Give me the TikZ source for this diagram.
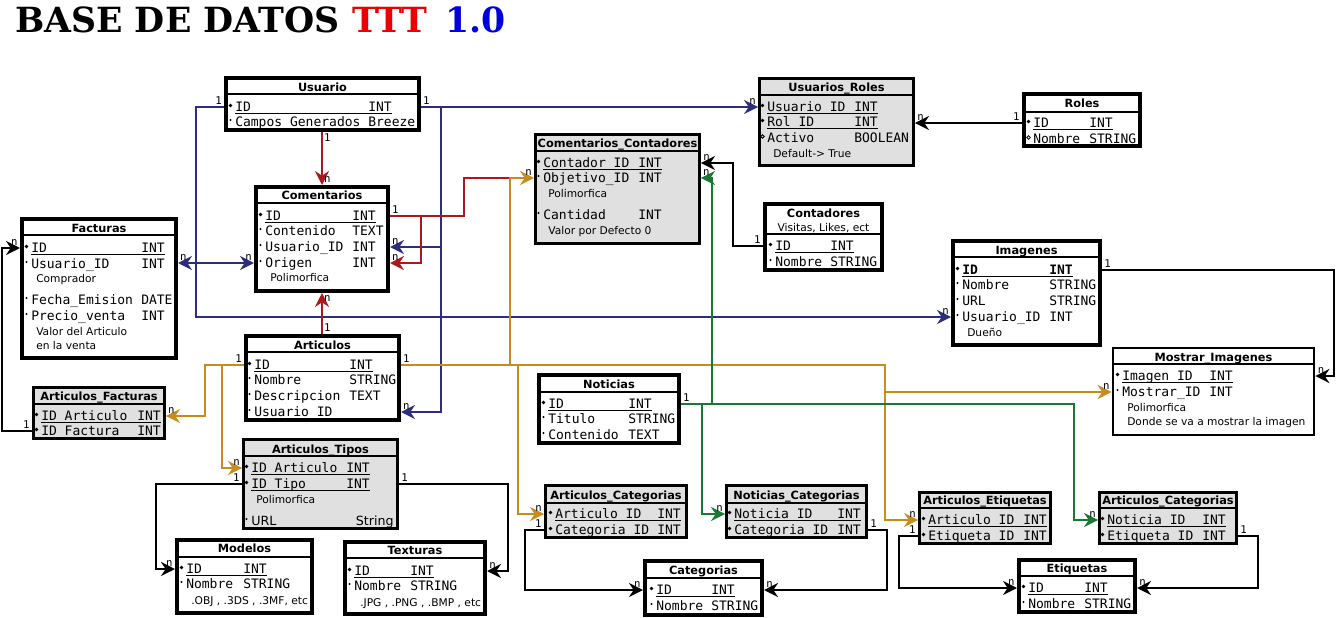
\documentclass[tikz,border=0pt]{standalone}
\usepackage{fontspec}
\newfontfamily\monof{DejaVu Sans Mono}
\newfontfamily\sansf{DejaVu Sans}
\newfontfamily\seriff{DejaVu Serif}
\usetikzlibrary{fit,arrows.meta}
\definecolor{cNavy}{RGB}{45,45,125}
\definecolor{cRed}{RGB}{170,25,30}
\definecolor{cGold}{RGB}{200,140,30}
\definecolor{cGreen}{RGB}{25,120,50}
\definecolor{cGray}{RGB}{224,224,224}
\definecolor{cTitleRed}{RGB}{235,0,0}
\definecolor{cTitleBlue}{RGB}{0,0,220}
\tikzset{
 fld/.style={font=\monof\fontsize{9.75}{11}\selectfont, anchor=west, inner sep=0pt, text height=7pt, text depth=0pt},
 nte/.style={font=\sansf\fontsize{8}{9}\selectfont, anchor=west, inner sep=0pt, text height=6pt, text depth=0pt},
 ttl/.style={font=\sansf\bfseries\fontsize{8.5}{9}\selectfont, inner sep=0pt, text height=6.2pt, text depth=0pt},
 thickbox/.style={draw, line width=3pt, fill=white, inner sep=0pt},
 thickbox sep/.style={line width=2pt},
 graybox/.style={draw, line width=2.2pt, fill=cGray, inner sep=0pt},
 graybox sep/.style={line width=1.8pt},
 thinbox/.style={draw, line width=2pt, fill=white, inner sep=0pt},
 thinbox sep/.style={line width=1.6pt},
 uline/.style={line width=0.8pt},
 lbl/.style={font=\monof\fontsize{8}{9}\selectfont, inner sep=0.8pt},
 arr/.style={-{Stealth[length=10.5pt,width=10.5pt,inset=3.5pt]}},
 navyln/.style={draw=cNavy, line width=1.7pt},
 redln/.style={draw=cRed, line width=1.7pt},
 goldln/.style={draw=cGold, line width=1.7pt},
 greenln/.style={draw=cGreen, line width=1.7pt},
 blkln/.style={draw=black, line width=2.1pt},
}
% table box: name, x1,y1,x2,y2, sep y, title y, title, style
\newcommand\tbox[9]{%
 \node[#9, fit={(#2,#3)(#4,#5)}] (#1) {};
 \draw[#9 sep] (#2,#6) -- (#4,#6);
 \node[ttl] (#1-title) at ({(#2+#4)/2},#7) {#8};}
\newcommand\fieldrow[7]{%
 \node[fld] (#1) at (#2,#3) {#4};
 \node[fld] (#1-t) at (#5,#3) {#6};
 #7}
\newcommand\keyf[6]{\fieldrow{#1}{#2}{#3}{#4}{#5}{#6}{\fill (#2-4.5,#3-1.5) circle[radius=1.9];
 \draw[uline] ([yshift=-1pt]#1.south west) -- ([yshift=-1pt]#1-t.south east);}}
\newcommand\keyd[6]{\fieldrow{#1}{#2}{#3}{#4}{#5}{#6}{\fill (#2-4.5,#3-1.5) circle[radius=1.9];}}
\newcommand\norf[6]{\fieldrow{#1}{#2}{#3}{#4}{#5}{#6}{\fill (#2-4.5,#3-2) circle[radius=1.2];}}
\newcommand\opnf[6]{\fieldrow{#1}{#2}{#3}{#4}{#5}{#6}{\draw[line width=0.6pt] (#2-4.5,#3-1.5) circle[radius=1.8];}}
\newcommand\Tnote[4]{\node[nte] (#1) at (#2,#3) {#4};}
\begin{document}
\begin{tikzpicture}[x=0.75pt,y=-0.75pt]
\useasboundingbox (0,0) rectangle (1337,617);
\fill[white] (0,0) rectangle (1337,617);
% title
\node[anchor=base west, font=\seriff\bfseries\fontsize{26}{28}\selectfont, inner sep=0pt] (t1) at (15,33) {BASE DE DATOS};
\node[anchor=base west, font=\seriff\bfseries\fontsize{26}{28}\selectfont, inner sep=0pt, text=cTitleRed] (t2) at (352,33) {TTT};
\node[anchor=base west, font=\seriff\bfseries\fontsize{26}{28}\selectfont, inner sep=0pt, text=cTitleBlue] (t3) at (445,33) {1.0};

% ---------- tables ----------
\tbox{usuario}{226}{78}{419}{130}{94}{87}{Usuario}{thickbox}
\keyf{u-id}{235}{107}{ID}{368}{INT}
\norf{u-cg}{235}{122}{Campos Generados Breeze}{415}{}

\tbox{coment}{256}{187}{388}{291}{203}{195}{Comentarios}{thickbox}
\keyf{c-id}{265}{216}{ID}{352}{INT}
\norf{c-cont}{265}{231}{Contenido}{352}{TEXT}
\norf{c-uid}{265}{247}{Usuario\_ID}{352}{INT}
\norf{c-orig}{265}{263}{Origen}{352}{INT}
\Tnote{c-n1}{270}{277}{Polimorfica}

\tbox{factur}{22}{219}{176}{358}{235}{228}{Facturas}{thickbox}
\keyf{f-id}{31}{248}{ID}{141}{INT}
\norf{f-uid}{31}{264}{Usuario\_ID}{141}{INT}
\Tnote{f-n1}{36}{278}{Comprador}
\norf{f-fe}{31}{300}{Fecha\_Emision}{141}{DATE}
\norf{f-pv}{31}{316}{Precio\_venta}{141}{INT}
\Tnote{f-n2}{36}{331}{Valor del Articulo}
\Tnote{f-n3}{36}{345}{en la venta}

\tbox{artic}{246}{336}{399}{420}{352}{345}{Articulos}{thickbox}
\keyf{a-id}{254}{365}{ID}{349}{INT}
\norf{a-nom}{254}{380}{Nombre}{349}{STRING}
\norf{a-desc}{254}{396}{Descripcion}{349}{TEXT}
\norf{a-uid}{254}{412}{Usuario ID}{390}{}

\tbox{afact}{33.5}{387.5}{164.5}{438.5}{404}{396}{Articulos\_Facturas}{graybox}
\keyf{af-art}{41}{416}{ID Articulo}{137}{INT}
\keyd{af-fac}{41}{431}{ID Factura}{137}{INT}

\tbox{uroles}{759.5}{78.5}{913.5}{165.5}{95}{87}{Usuarios\_Roles}{graybox}
\keyf{ur-uid}{767}{107}{Usuario ID}{854}{INT}
\keyf{ur-rol}{767}{122}{Rol ID}{854}{INT}
\opnf{ur-act}{767}{138}{Activo}{854}{BOOLEAN}
\Tnote{ur-n1}{773}{153}{Default-> True}

\tbox{ccont}{535.5}{134.5}{699.5}{243.5}{151}{143}{Comentarios\_Contadores}{graybox}
\keyf{cc-cont}{543}{163}{Contador ID}{638}{INT}
\norf{cc-obj}{543}{178}{Objetivo\_ID}{638}{INT}
\Tnote{cc-n1}{548}{193}{Polimorfica}
\norf{cc-cant}{543}{215}{Cantidad}{638}{INT}
\Tnote{cc-n2}{548}{230}{Valor por Defecto 0}

\tbox{contad}{765}{204}{882}{270}{234}{213}{Contadores}{thickbox}
\node[nte, anchor=center] (ct-sub) at (823.5,227) {Visitas, Likes, ect};
\keyf{ct-id}{775}{246}{ID}{830}{INT}
\norf{ct-nom}{775}{262}{Nombre}{830}{STRING}

\tbox{roles}{1024}{94}{1140}{146}{112}{103}{Roles}{thickbox}
\keyf{r-id}{1033}{123}{ID}{1089}{INT}
\opnf{r-nom}{1033}{139}{Nombre}{1089}{STRING}

\tbox{imag}{953}{241}{1100}{345}{257}{250}{Imagenes}{thickbox}
\keyf{img-id}{962}{270}{\bfseries ID}{1049}{\bfseries INT}
\norf{img-nom}{962}{285}{Nombre}{1049}{STRING}
\norf{img-url}{962}{301}{URL}{1049}{STRING}
\norf{img-uid}{962}{317}{Usuario\_ID}{1049}{INT}
\Tnote{img-n1}{967}{332}{Dueño}

\tbox{mimg}{1113}{348}{1314}{435}{364}{357}{Mostrar\_Imagenes}{thinbox}
\keyf{mi-img}{1122}{376}{Imagen ID}{1209}{INT}
\norf{mi-most}{1122}{392}{Mostrar\_ID}{1209}{INT}
\Tnote{mi-n1}{1127}{407}{Polimorfica}
\Tnote{mi-n2}{1127}{421}{Donde se va a mostrar la imagen}

\tbox{notic}{539}{375}{679}{443}{392}{384}{Noticias}{thickbox}
\keyf{n-id}{548}{404}{ID}{628}{INT}
\norf{n-tit}{548}{419}{Titulo}{628}{STRING}
\norf{n-cont}{548}{435}{Contenido}{628}{TEXT}

\tbox{atipos}{243.5}{439.5}{397.5}{528.5}{456}{449}{Articulos\_Tipos}{graybox}
\keyf{at-art}{251}{468}{ID Articulo}{346}{INT}
\keyf{at-tipo}{251}{484}{ID Tipo}{346}{INT}
\Tnote{at-n1}{256}{499}{Polimorfica}
\fill (246.5,519) circle[radius=1.2];
\node[nte, font=\sansf\fontsize{9.5}{10}\selectfont, text height=7pt] (at-url) at (251,521) {URL};
\node[nte, font=\sansf\fontsize{9.5}{10}\selectfont, text height=7pt, anchor=east] (at-url-t) at (394,521) {String};

\tbox{model}{177}{540}{312}{613}{557}{548}{Modelos}{thickbox}
\keyf{m-id}{186}{569}{ID}{243}{INT}
\norf{m-nom}{186}{584}{Nombre}{243}{STRING}
\Tnote{m-n1}{191}{600}{.OBJ , .3DS , .3MF, etc}

\tbox{textur}{345}{542}{485}{614}{558}{550}{Texturas}{thickbox}
\keyf{t-id}{354}{571}{ID}{410}{INT}
\norf{t-nom}{354}{586}{Nombre}{410}{STRING}
\Tnote{t-n1}{360}{602}{.JPG , .PNG , .BMP , etc}

\tbox{acat1}{545.5}{485.5}{686.5}{537.5}{503}{495}{Articulos\_Categorias}{graybox}
\keyf{ac1-art}{555}{514}{Articulo ID}{657}{INT}
\keyf{ac1-cat}{555}{530}{Categoria ID}{657}{INT}

\tbox{ncat}{726.5}{485.5}{866.5}{537.5}{503}{495}{Noticias\_Categorias}{graybox}
\keyf{nc-not}{734}{514}{Noticia ID}{837}{INT}
\keyf{nc-cat}{734}{530}{Categoria ID}{837}{INT}

\tbox{categ}{645}{561}{762}{615}{578}{570}{Categorias}{thickbox}
\keyf{cat-id}{656}{590}{ID}{711}{INT}
\norf{cat-nom}{656}{606}{Nombre}{711}{STRING}

\tbox{aetiq}{919.5}{492.5}{1050.5}{543.5}{508}{500}{Articulos\_Etiquetas}{graybox}
\keyf{ae-art}{928}{520}{Articulo ID}{1023}{INT}
\keyf{ae-eti}{928}{536}{Etiqueta ID}{1023}{INT}

\tbox{acat2}{1099.5}{492.5}{1236.5}{543.5}{508}{500}{Articulos\_Categorias}{graybox}
\keyf{ac2-not}{1107}{520}{Noticia\_ID}{1202}{INT}
\keyf{ac2-eti}{1107}{536}{Etiqueta\_ID}{1202}{INT}

\tbox{etiq}{1019}{560}{1135}{612}{576}{568}{Etiquetas}{thickbox}
\keyf{et-id}{1028}{588}{ID}{1084}{INT}
\norf{et-nom}{1028}{604}{Nombre}{1084}{STRING}

% ---------- bus coordinates ----------
\coordinate (xB) at (441,0);
\coordinate (xL) at (196,0);
\coordinate (xR) at (421,0);
\coordinate (xRr) at (464,0);
\coordinate (xO) at (510,0);
\coordinate (xO2) at (518,0);
\coordinate (xO3) at (885,0);
\coordinate (xOL) at (205,0);
\coordinate (xOL2) at (222,0);
\coordinate (xG) at (712,0);
\coordinate (xG2) at (702,0);
\coordinate (xG3) at (1074,0);
\coordinate (xK2) at (733,0);
\coordinate (xK3) at (1334,0);
\coordinate (xK4) at (2,0);
\coordinate (xK5) at (156,0);
\coordinate (xK6) at (508,0);
\coordinate (xK7) at (525,0);
\coordinate (xK8) at (887,0);
\coordinate (xK9) at (899,0);
\coordinate (xK10) at (1258,0);

% ---------- blue ----------
\draw[navyln,arr] (usuario.east |- u-id) node[lbl,above right]{1} -- (uroles.west |- u-id) node[lbl,above left]{n};
\draw[navyln,arr] (xB |- u-id) -- (xB |- a-uid) -- (artic.east |- a-uid) node[lbl,above right]{n};
\draw[navyln,arr] (xB |- c-uid) -- (coment.east |- c-uid) node[lbl,above right]{n};
\draw[navyln,arr] (usuario.west |- u-id) node[lbl,above left]{1} -- (xL |- u-id) -- (xL |- img-uid) -- (imag.west |- img-uid) node[lbl,above left]{n};
\draw[navyln,arr] (xL |- c-orig) -- (factur.east |- c-orig) node[lbl,above right]{n};
\draw[navyln,arr] (xL |- c-orig) -- (coment.west |- c-orig) node[lbl,above left]{n};

% ---------- red ----------
\draw[redln,arr] (usuario.south -| coment.north) node[lbl,below right]{1} -- (coment.north) node[lbl,above right]{n};
\draw[redln,arr] (artic.north -| coment.south) node[lbl,above right]{1} -- (coment.south) node[lbl,below right]{n};
\draw[redln] (coment.east |- c-id) node[lbl,above right]{1} -- (xRr |- c-id) -- (xRr |- cc-obj) -- (xO |- cc-obj);
\draw[redln,arr] (xR |- c-id) -- (xR |- c-orig) -- (coment.east |- c-orig) node[lbl,above right]{n};

% ---------- gold ----------
\draw[goldln,arr] (artic.east |- a-id) node[lbl,above right]{1} -- (xO3 |- a-id) -- (xO3 |- ae-art) -- (aetiq.west |- ae-art) node[lbl,above left]{n};
\draw[goldln,arr] (xO |- a-id) -- (xO |- cc-obj) -- (ccont.west |- cc-obj) node[lbl,above left]{n};
\draw[goldln,arr] (xO2 |- a-id) -- (xO2 |- ac1-art) -- (acat1.west |- ac1-art) node[lbl,above left]{n};
\draw[goldln,arr] (xO3 |- mi-most) -- (mimg.west |- mi-most) node[lbl,above left]{n};
\draw[goldln,arr] (artic.west |- a-id) node[lbl,above left]{1} -- (xOL |- a-id) -- (xOL |- af-art) -- (afact.east |- af-art) node[lbl,above right]{n};
\draw[goldln,arr] (xOL2 |- a-id) -- (xOL2 |- at-art) -- (atipos.west |- at-art) node[lbl,above left]{n};

% ---------- green ----------
\draw[greenln,arr] (notic.east |- n-id) node[lbl,above right]{1} -- (xG3 |- n-id) -- (xG3 |- ac2-not) -- (acat2.west |- ac2-not) node[lbl,above left]{n};
\draw[greenln,arr] (xG |- n-id) -- (xG |- cc-obj) -- (ccont.east |- cc-obj) node[lbl,above right]{n};
\draw[greenln,arr] (xG2 |- n-id) -- (xG2 |- nc-not) -- (ncat.west |- nc-not) node[lbl,above left]{n};

% ---------- black ----------
\draw[blkln,arr] (roles.west |- r-id) node[lbl,above left]{1} -- (uroles.east |- r-id) node[lbl,above right]{n};
\draw[blkln,arr] (contad.west |- ct-id) node[lbl,above left]{1} -- (xK2 |- ct-id) -- (xK2 |- cc-cont) -- (ccont.east |- cc-cont) node[lbl,above right]{n};
\draw[blkln,arr] (imag.east |- img-id) node[lbl,above right]{1} -- (xK3 |- img-id) -- (xK3 |- mi-img) -- (mimg.east |- mi-img) node[lbl,above right]{n};
\draw[blkln,arr] (afact.west |- af-fac) node[lbl,above left]{1} -- (xK4 |- af-fac) -- (xK4 |- f-id) -- (factur.west |- f-id) node[lbl,above left]{n};
\draw[blkln,arr] (atipos.west |- at-tipo) node[lbl,above left]{1} -- (xK5 |- at-tipo) -- (xK5 |- m-id) -- (model.west |- m-id) node[lbl,above left]{n};
\draw[blkln,arr] (atipos.east |- at-tipo) node[lbl,above right]{1} -- (xK6 |- at-tipo) -- (xK6 |- t-id) -- (textur.east |- t-id) node[lbl,above right]{n};
\draw[blkln,arr] (acat1.west |- ac1-cat) node[lbl,above left]{1} -- (xK7 |- ac1-cat) -- (xK7 |- cat-id) -- (categ.west |- cat-id) node[lbl,above left]{n};
\draw[blkln,arr] (ncat.east |- nc-cat) node[lbl,above right]{1} -- (xK8 |- nc-cat) -- (xK8 |- cat-id) -- (categ.east |- cat-id) node[lbl,above right]{n};
\draw[blkln,arr] (aetiq.west |- ae-eti) node[lbl,above left]{1} -- (xK9 |- ae-eti) -- (xK9 |- et-id) -- (etiq.west |- et-id) node[lbl,above left]{n};
\draw[blkln,arr] (acat2.east |- ac2-eti) node[lbl,above right]{1} -- (xK10 |- ac2-eti) -- (xK10 |- et-id) -- (etiq.east |- et-id) node[lbl,above right]{n};
\end{tikzpicture}
\end{document}
